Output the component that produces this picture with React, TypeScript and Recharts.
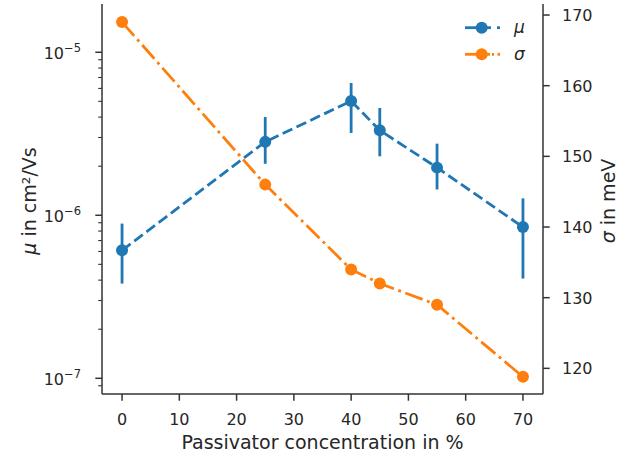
import { LineChart, Line, XAxis, YAxis, ErrorBar } from "recharts";

const concentration = [0, 25, 40, 45, 55, 70];
const mobility = [6.1e-7, 2.82e-6, 5.02e-6, 3.32e-6, 1.96e-6, 8.47e-7];
const mobilityLow = [3.81e-7, 2.07e-6, 3.2e-6, 2.3e-6, 1.44e-6, 4.09e-7];
const mobilityHigh = [8.89e-7, 4.01e-6, 6.48e-6, 4.55e-6, 2.75e-6, 1.27e-6];
const disorder = [169, 146, 134, 132, 129, 118.8];

const xTicks = [0, 10, 20, 30, 40, 50, 60, 70];
const sigmaTicks = [120, 130, 140, 150, 160, 170];
const muTicks = [
  9e-8, 1e-7, 2e-7, 3e-7, 4e-7, 5e-7, 6e-7, 7e-7, 8e-7, 9e-7, 1e-6, 2e-6, 3e-6, 4e-6, 5e-6, 6e-6, 7e-6,
  8e-6, 9e-6, 1e-5,
];

const data = concentration.map((c, i) => ({
  c,
  mu: mobility[i],
  muErr: [mobility[i] - mobilityLow[i], mobilityHigh[i] - mobility[i]],
  sigma: disorder[i],
}));

const BLUE = "#1f77b4";
const ORANGE = "#ff7f0e";
const INK = "#262626";
const SPINE = "#333";
const FONT = "DejaVu Sans";

function XTick({ x, y, payload }: any) {
  return (
    <g>
      <line x1={x} x2={x} y1={y} y2={y + 6.7} stroke={SPINE} strokeWidth={1.5} />
      <text x={x} y={y + 31} textAnchor="middle" fontSize={16} fill={INK} fontFamily={FONT}>
        {payload.value}
      </text>
    </g>
  );
}

function LogTick({ x, y, payload }: any) {
  const lg = Math.log10(payload.value);
  const exp = Math.round(lg);
  const major = Math.abs(lg - exp) < 1e-9;
  return (
    <g>
      <line x1={x - (major ? 6.7 : 3.8)} x2={x} y1={y} y2={y} stroke={SPINE} strokeWidth={major ? 1.5 : 1.1} />
      {major && (
        <text x={x - 21} y={y + 7} textAnchor="end" fontSize={16} fill={INK} fontFamily={FONT}>
          10
          <tspan dy={-7.5} fontSize={11.5}>
            {"\u2212" + -exp}
          </tspan>
        </text>
      )}
    </g>
  );
}

function RightTick({ x, y, payload }: any) {
  return (
    <g>
      <line x1={x} x2={x + 6.7} y1={y} y2={y} stroke={SPINE} strokeWidth={1.5} />
      <text x={x + 19} y={y + 6} fontSize={16} fill={INK} fontFamily={FONT}>
        {payload.value}
      </text>
    </g>
  );
}

const dot = (color: string) => (p: any) =>
  <circle key={p.index} cx={p.cx} cy={p.cy} r={6} fill={color} stroke="none" />;

function Legend() {
  return (
    <svg width={626} height={456} style={{ position: "absolute", left: 0, top: 0, pointerEvents: "none" }}>
      <line x1={465} x2={491} y1={27.7} y2={27.7} stroke={BLUE} strokeWidth={2.8} />
      <line x1={497} x2={500} y1={27.7} y2={27.7} stroke={BLUE} strokeWidth={2.8} />
      <circle cx={481.7} cy={27.7} r={6} fill={BLUE} />
      <text x={514} y={32.5} fontSize={17} fontStyle="italic" fill={INK} fontFamily={FONT}>
        μ
      </text>
      <line x1={465} x2={490} y1={54.3} y2={54.3} stroke={ORANGE} strokeWidth={2.8} />
      <line x1={492} x2={494} y1={54.3} y2={54.3} stroke={ORANGE} strokeWidth={2.8} />
      <line x1={497.5} x2={500} y1={54.3} y2={54.3} stroke={ORANGE} strokeWidth={2.8} />
      <circle cx={481.7} cy={54.3} r={6} fill={ORANGE} />
      <text x={514} y={59.5} fontSize={17} fontStyle="italic" fill={INK} fontFamily={FONT}>
        σ
      </text>
    </svg>
  );
}

export default function App() {
  return (
    <div style={{ position: "absolute", left: 0, top: 0, width: 626, height: 456, background: "#fff" }}>
      <LineChart width={626} height={456} data={data} margin={{ top: 4, right: 0, bottom: 0, left: 0 }}>
        <XAxis
          xAxisId="top"
          orientation="top"
          type="number"
          dataKey="c"
          domain={[-3.5, 73.5]}
          height={0}
          tick={false}
          tickLine={false}
          axisLine={{ stroke: SPINE, strokeWidth: 1.5 }}
        />
        <XAxis
          type="number"
          dataKey="c"
          domain={[-3.5, 73.5]}
          ticks={xTicks}
          height={62}
          tickSize={0}
          tickMargin={0}
          tickLine={false}
          axisLine={{ stroke: SPINE, strokeWidth: 1.5 }}
          tick={(p: any) => <XTick {...p} />}
          interval={0}
          label={{
            content: () => (
              <text x={322.5} y={448.5} textAnchor="middle" fontSize={19} fill={INK} fontFamily={FONT}>
                Passivator concentration in %
              </text>
            ),
          }}
        />
        <YAxis
          yAxisId="left"
          scale="log"
          type="number"
          domain={[8.01e-8, 1.977e-5]}
          allowDataOverflow
          ticks={muTicks}
          interval={0}
          width={102}
          tickSize={0}
          tickMargin={0}
          tickLine={false}
          axisLine={{ stroke: SPINE, strokeWidth: 1.5 }}
          tick={(p: any) => <LogTick {...p} />}
          label={{
            content: () => (
              <text
                transform="translate(36,201) rotate(-90)"
                textAnchor="middle"
                fontSize={19}
                fill={INK}
                fontFamily={FONT}
              >
                <tspan fontStyle="italic">μ</tspan> in cm²/Vs
              </text>
            ),
          }}
        />
        <YAxis
          yAxisId="right"
          orientation="right"
          type="number"
          domain={[116.37, 171.56]}
          allowDataOverflow
          ticks={sigmaTicks}
          interval={0}
          width={83}
          tickSize={0}
          tickMargin={0}
          tickLine={false}
          axisLine={{ stroke: SPINE, strokeWidth: 1.5 }}
          tick={(p: any) => <RightTick {...p} />}
          label={{
            content: () => (
              <text
                transform="translate(615,201) rotate(-90)"
                textAnchor="middle"
                fontSize={19}
                fill={INK}
                fontFamily={FONT}
              >
                <tspan fontStyle="italic">σ</tspan> in meV
              </text>
            ),
          }}
        />
        <Line
          yAxisId="left"
          dataKey="mu"
          type="linear"
          stroke={BLUE}
          strokeWidth={2.8}
          strokeDasharray="10.7 4.6"
          dot={dot(BLUE)}
          activeDot={false}
          isAnimationActive={false}
        >
          <ErrorBar dataKey="muErr" direction="y" width={0} stroke={BLUE} strokeWidth={2.8} />
        </Line>
        <Line
          yAxisId="right"
          dataKey="sigma"
          type="linear"
          stroke={ORANGE}
          strokeWidth={2.8}
          strokeDasharray="18.4 4.6 2.9 4.6"
          dot={dot(ORANGE)}
          activeDot={false}
          isAnimationActive={false}
        />
      </LineChart>
      <Legend />
    </div>
  );
}
